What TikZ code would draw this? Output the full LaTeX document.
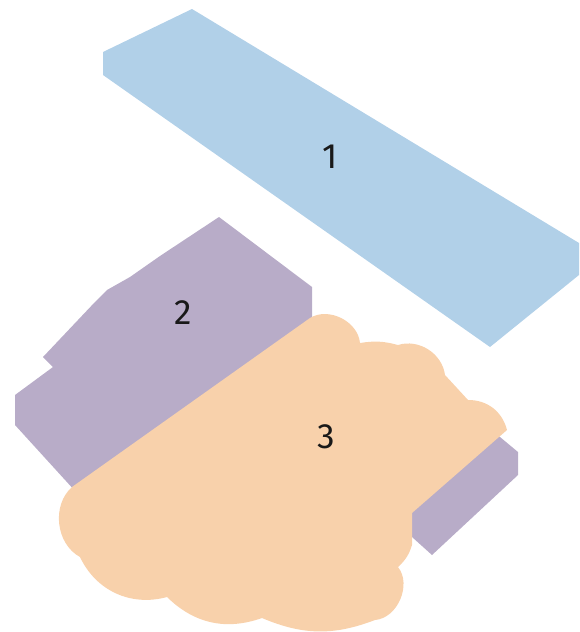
\documentclass[tikz,border=0pt]{standalone}
\usepackage{fontspec}
\setmainfont{Fira Sans}
\usepackage{tikz}

\definecolor{zoneblue}{RGB}{177,208,232}
\definecolor{zonepurple}{RGB}{184,172,200}
\definecolor{zoneorange}{RGB}{248,209,171}

\begin{document}
\begin{tikzpicture}[%
    x=0.02cm,
    y=-0.02cm,
    zone/.style={draw=none, line join=round},
    zonenum/.style={font=\fontsize{20}{20}\selectfont, text=black!90},
  ]
    \useasboundingbox (0,0) rectangle (579,632);

    \fill[zone, zoneblue] (103,52) -- (192,9) -- (579,243) -- (579,275)
        -- (490,347) -- (103,75) -- cycle;

    \fill[zone, zonepurple] (219,217) -- (312,287) -- (312,325) -- (76,492)
        -- (15,425) -- (15,395) -- (53,367) -- (43,357) -- (95,302)
        -- (107,290) -- (130,277) -- (160,256) -- cycle;
    \fill[zone, zonepurple] (500,437) -- (518,452) -- (518,475) -- (432,555)
        -- (412,537) -- (405,520) -- (480,425) -- cycle;

    \fill[zone, zoneorange] (72,487) -- (310,318)
        to[bend left=58] (360,343) to[bend left=12] (398,345)
        to[bend left=50] (445,375) -- (468,400)
        to[bend left=38] (507,430) -- (412,513) -- (412,545)
        to[bend left=15] (398,567) to[bend left=62] (375,620)
        to[bend left=22] (262,618) to[bend left=32] (167,597)
        to[bend left=40] (80,557) to[bend left=55] (72,487) -- cycle;

    \node[zonenum] (one)   at (330,157) {1};
    \node[zonenum] (two)   at (183,313) {2};
    \node[zonenum] (three) at (326,437) {3};
  \end{tikzpicture}
\end{document}
